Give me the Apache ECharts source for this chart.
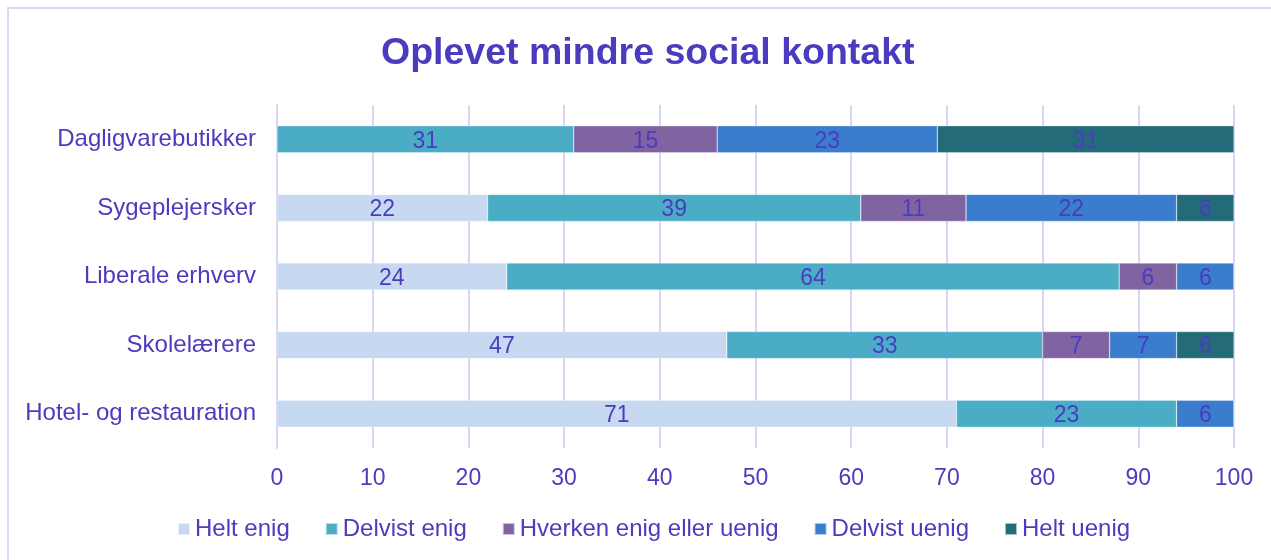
<!DOCTYPE html>
<html lang="da">
<head>
    <meta charset="UTF-8">
    <title>Oplevet mindre social kontakt</title>
    <script src="https://cdn.jsdelivr.net/npm/echarts@6/dist/echarts.min.js"></script>
</head>
<style>
html,body{margin:0;padding:0;background-color:#fff}
#chartBox{width:1271px;height:560px}
</style>
<body>
    <div id="chartBox"></div>
</body>
<script>
// data
const categories = ['Dagligvarebutikker', 'Sygeplejersker', 'Liberale erhverv', 'Skolelærere', 'Hotel- og restauration'];
const seriesNames = ['Helt enig', 'Delvist enig', 'Hverken enig eller uenig', 'Delvist uenig', 'Helt uenig'];
const heltEnig = [0, 22, 24, 47, 71];
const delvistEnig = [31, 39, 64, 33, 23];
const hverken = [15, 11, 6, 7, 0];
const delvistUenig = [23, 22, 6, 7, 6];
const heltUenig = [31, 6, 0, 6, 0];
const colors = ['#C6D9F1', '#4BACC6', '#8064A2', '#3B7DCD', '#246B7A'];

const textColor = '#4B3BBF';
const font = '"Liberation Sans", Arial, sans-serif';

function makeSeries(name, data, idx) {
    return {
        type: 'bar',
        name: name,
        stack: 'total',
        barWidth: 27,
        data: data,
        itemStyle: {color: colors[idx], borderColor: 'rgba(255,255,255,0.6)', borderWidth: 0.5},
        label: {
            show: true,
            position: 'inside',
            offset: [0, 2],
            color: textColor,
            fontFamily: font,
            fontSize: 23,
            formatter: p => p.value > 0 ? p.value : ''
        }
    };
}

const allData = [heltEnig, delvistEnig, hverken, delvistUenig, heltUenig];

let chartObj = echarts.init(document.getElementById('chartBox'));
chartObj.setOption({
    animation: false,
    textStyle: {fontFamily: font},
    graphic: [{
        type: 'rect',
        shape: {x: 8, y: 8, width: 1300, height: 600},
        style: {fill: 'none', stroke: '#DCD8F3', lineWidth: 2}
    }],
    title: {
        text: 'Oplevet mindre social kontakt',
        left: 376,
        top: 30,
        textStyle: {color: textColor, fontSize: 37.5, fontWeight: 'bold', fontFamily: font}
    },
    grid: {left: 277, right: 37, top: 105, bottom: 112},
    xAxis: {
        type: 'value',
        min: 0,
        max: 100,
        interval: 10,
        axisLine: {show: false},
        axisTick: {show: false},
        axisLabel: {color: textColor, fontSize: 23, margin: 19, fontFamily: font},
        splitLine: {show: true, lineStyle: {color: '#D9D5F2', width: 2}}
    },
    yAxis: {
        type: 'category',
        inverse: true,
        data: categories,
        axisLine: {show: true, lineStyle: {color: '#D9D5F2', width: 2}},
        axisTick: {show: false},
        axisLabel: {color: textColor, fontSize: 24, margin: 21, fontFamily: font, padding: [5, 0, 0, 0]}
    },
    legend: {
        bottom: 14,
        left: 172,
        itemWidth: 12,
        itemHeight: 12,
        itemGap: 35,
        icon: 'rect',
        textStyle: {color: textColor, fontSize: 24, fontFamily: font},
        data: seriesNames
    },
    series: seriesNames.map((n, i) => makeSeries(n, allData[i], i))
});
</script>
</html>
